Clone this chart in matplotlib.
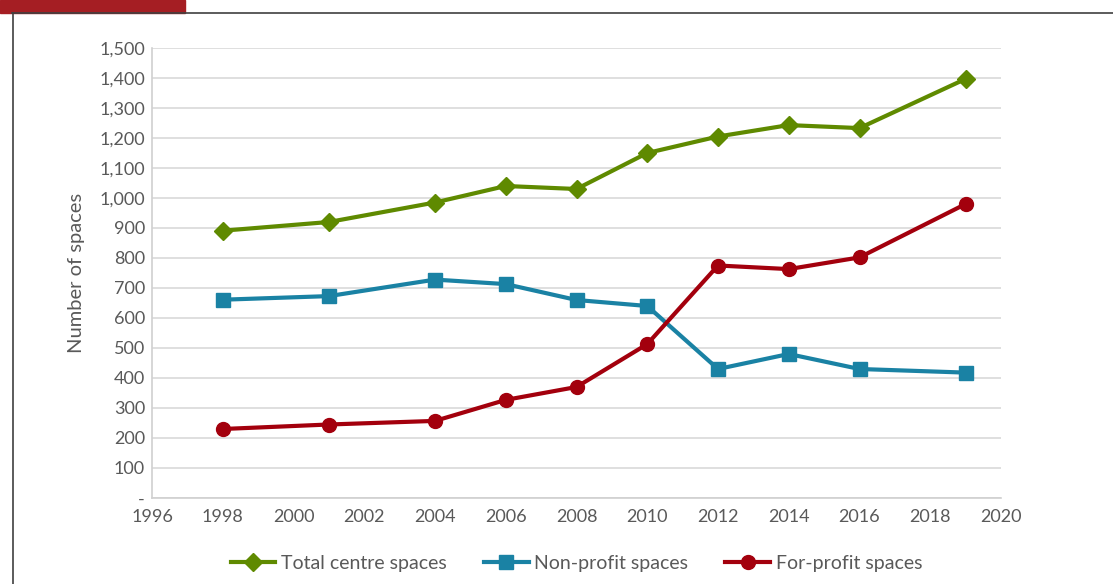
import matplotlib.pyplot as plt
from matplotlib.patches import Rectangle
from matplotlib.lines import Line2D
from matplotlib.ticker import FuncFormatter

plt.rcParams['font.family'] = ['Lato', 'DejaVu Sans']

years = [1998, 2001, 2004, 2006, 2008, 2010, 2012, 2014, 2016, 2019]
total = [891, 920, 985, 1040, 1030, 1150, 1205, 1243, 1233, 1397]
nonprofit = [661, 673, 728, 713, 660, 640, 430, 480, 430, 418]
forprofit = [230, 245, 257, 327, 370, 513, 775, 763, 802, 980]

GREEN = "#5F8A00"
BLUE = "#1A82A4"
RED = "#A3000D"
TXT = "#595959"

fig = plt.figure(figsize=(11.13, 5.84), dpi=100)
ax = fig.add_axes([152 / 1113, 1 - 498 / 584, (1001 - 152) / 1113, 450 / 584])

ax.plot(years, total, color=GREEN, lw=3, marker="D", ms=9, label="Total centre spaces")
ax.plot(years, nonprofit, color=BLUE, lw=3, marker="s", ms=10, label="Non-profit spaces")
ax.plot(years, forprofit, color=RED, lw=3, marker="o", ms=10, label="For-profit spaces")

ax.set_xlim(1996, 2020)
ax.set_ylim(0, 1500)
ax.set_xticks(range(1996, 2021, 2))
ax.set_yticks(range(0, 1501, 100))
ax.yaxis.set_major_formatter(FuncFormatter(lambda v, p: "-" if v == 0 else f"{int(v):,}"))
ax.tick_params(length=0, labelsize=13, colors=TXT)
ax.tick_params(axis="y", pad=5)
ax.tick_params(axis="x", pad=8)
ax.grid(axis="y", color="#D9D9D9", lw=1.2)
ax.set_axisbelow(True)
for s in ["top", "right"]:
    ax.spines[s].set_visible(False)
for s in ["left", "bottom"]:
    ax.spines[s].set_color("#D0D0D0")
    ax.spines[s].set_linewidth(1.2)
ax.set_ylabel("Number of spaces", fontsize=14.5, color=TXT, labelpad=10)

ax.legend(loc="center", bbox_to_anchor=(0.5, -0.145), ncol=3, frameon=False,
          fontsize=14, labelcolor=TXT, handlelength=2.3, columnspacing=1.9,
          handletextpad=0.3)

# page frame bits
fig.patches.append(Rectangle((0, 1 - 13 / 584), 185 / 1113, 13 / 584,
                             transform=fig.transFigure, color="#A51E23", zorder=0))
fig.add_artist(Line2D([12 / 1113, 1], [1 - 12.5 / 584] * 2, color="#404040", lw=1.2,
                      transform=fig.transFigure))
fig.add_artist(Line2D([12.5 / 1113] * 2, [0, 1 - 12.5 / 584], color="#404040", lw=1.2,
                      transform=fig.transFigure))

fig.savefig("out.png", dpi=100)
